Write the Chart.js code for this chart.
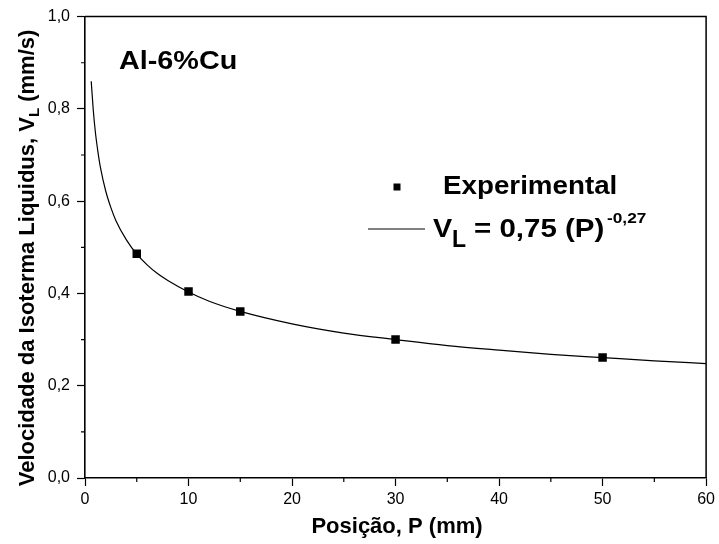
<!DOCTYPE html>
<html lang="pt">
<head>
    <meta charset="UTF-8">
    <title>Velocidade da Isoterma Liquidus - Al-6%Cu</title>
    <script src="https://cdn.jsdelivr.net/npm/chart.js"></script>
    <style>
body {
  margin: 0;
  padding: 0;
  background-color: #fff;
}

#chartContainer {
  width: 719px;
  height: 544px;
}
    </style>
</head>
<body>
    <div id="chartContainer">
        <canvas id="myChart" width="719" height="544"></canvas>
    </div>

    <script>
        // experimental points (posição mm, velocidade mm/s)
        const expPos = [5, 10, 15, 30, 50];
        const expVel = [0.486, 0.404, 0.361, 0.300, 0.261];

        // fitted curve
        const fitPos = [0.6, 0.8, 1, 1.25, 1.5, 2, 2.5, 3, 4, 5, 6, 7, 8, 10, 12, 15, 20, 25, 30, 35, 40, 45, 50, 55, 60];
        const fitVel = [0.860, 0.797, 0.750, 0.707, 0.672, 0.622, 0.586, 0.557, 0.516, 0.485, 0.462, 0.443, 0.428, 0.403, 0.383, 0.361, 0.334, 0.314, 0.300, 0.287, 0.277, 0.268, 0.261, 0.254, 0.248];

        // tick labels
        const xTicks = [0, 10, 20, 30, 40, 50, 60];
        const yTicks = [0, 0.2, 0.4, 0.6, 0.8, 1.0];
        const xMinor = [5, 15, 25, 35, 45, 55];
        const yMinor = [0.1, 0.3, 0.5, 0.7, 0.9];

        function toPoints(xs, ys) {
            return xs.map(function (x, i) { return { x: x, y: ys[i] }; });
        }

        function stretchText(ctx, txt, x, y, font, sx) {
            ctx.save();
            ctx.font = font;
            ctx.translate(x, y);
            ctx.scale(sx, 1);
            ctx.fillText(txt, 0, 0);
            ctx.restore();
        }

        const FONT = '"Liberation Sans", Arial, sans-serif';

        const decorations = {
            id: 'decorations',
            afterDraw: function (chart) {
                const ctx = chart.ctx;
                const a = chart.chartArea;
                const xs = chart.scales.x;
                const ys = chart.scales.y;

                ctx.save();
                ctx.strokeStyle = '#000';
                ctx.fillStyle = '#000';

                // top and right frame
                ctx.lineWidth = 1.5;
                ctx.beginPath();
                ctx.moveTo(a.left, a.top);
                ctx.lineTo(a.right, a.top);
                ctx.lineTo(a.right, a.bottom);
                ctx.stroke();

                // minor ticks
                ctx.lineWidth = 1.2;
                ctx.beginPath();
                xMinor.forEach(function (v) {
                    const px = xs.getPixelForValue(v);
                    ctx.moveTo(px, a.bottom);
                    ctx.lineTo(px, a.bottom + 4);
                });
                yMinor.forEach(function (v) {
                    const py = ys.getPixelForValue(v);
                    ctx.moveTo(a.left, py);
                    ctx.lineTo(a.left - 4, py);
                });
                ctx.stroke();

                ctx.textBaseline = 'alphabetic';
                ctx.textAlign = 'left';

                // alloy label
                stretchText(ctx, 'Al-6%Cu', 119, 69, 'bold 25px ' + FONT, 1.15);

                // legend
                ctx.fillRect(393.5, 183.5, 7, 7);
                stretchText(ctx, 'Experimental', 443, 194, 'bold 25px ' + FONT, 1.11);
                ctx.lineWidth = 1;
                ctx.beginPath();
                ctx.moveTo(368, 229);
                ctx.lineTo(425, 229);
                ctx.stroke();
                stretchText(ctx, 'V', 433, 237, 'bold 25px ' + FONT, 1.15);
                stretchText(ctx, 'L', 452, 247, 'bold 23px ' + FONT, 1.0);
                stretchText(ctx, '= 0,75 (P)', 474, 237, 'bold 25px ' + FONT, 1.18);
                stretchText(ctx, '-0,27', 607, 223, 'bold 15px ' + FONT, 1.15);

                // x axis title
                ctx.font = 'bold 22px ' + FONT;
                ctx.textAlign = 'center';
                ctx.fillText('Posição, P (mm)', 397, 533);

                // y axis title, rotated with subscript
                ctx.textAlign = 'left';
                const part1 = 'Velocidade da Isoterma Liquidus, V';
                const part2 = 'L';
                const part3 = ' (mm/s)';
                const mainFont = 'bold 22px ' + FONT;
                const subFont = 'bold 15px ' + FONT;
                ctx.font = mainFont;
                const w1 = ctx.measureText(part1).width;
                const w3 = ctx.measureText(part3).width;
                ctx.font = subFont;
                const w2 = ctx.measureText(part2).width;
                const total = w1 + w2 + w3;
                ctx.translate(34, 258 + total / 2);
                ctx.rotate(-Math.PI / 2);
                ctx.font = mainFont;
                ctx.fillText(part1, 0, 0);
                ctx.font = subFont;
                ctx.fillText(part2, w1, 5);
                ctx.font = mainFont;
                ctx.fillText(part3, w1 + w2, 0);

                ctx.restore();
            }
        };

        const ctx = document.getElementById('myChart').getContext('2d');
        const myChart = new Chart(ctx, {
            type: 'scatter',
            data: {
                datasets: [{
                    label: 'Experimental',
                    data: toPoints(expPos, expVel),
                    pointStyle: 'rect',
                    pointRadius: 6,
                    pointBorderWidth: 0,
                    backgroundColor: '#000',
                    borderColor: '#000',
                    showLine: false
                }, {
                    label: 'VL= 0,75 (P)^-0,27',
                    data: toPoints(fitPos, fitVel),
                    showLine: true,
                    pointRadius: 0,
                    borderWidth: 1.2,
                    borderColor: '#000',
                    backgroundColor: '#000',
                    cubicInterpolationMode: 'monotone'
                }]
            },
            options: {
                responsive: false,
                animation: false,
                devicePixelRatio: 1,
                layout: {
                    padding: { top: 14, right: 11, left: 0, bottom: 0 }
                },
                plugins: {
                    legend: { display: false },
                    tooltip: { enabled: false }
                },
                scales: {
                    x: {
                        type: 'linear',
                        min: 0,
                        max: 60,
                        afterFit: function (s) { s.height = 66; },
                        afterBuildTicks: function (s) {
                            s.ticks = xTicks.map(function (v) { return { value: v }; });
                        },
                        ticks: {
                            color: '#000',
                            padding: 4,
                            maxRotation: 0,
                            font: { family: FONT, size: 16 },
                            callback: function (value) { return String(value); }
                        },
                        grid: {
                            drawOnChartArea: false,
                            tickLength: 8,
                            tickColor: '#000',
                            tickWidth: 1.2
                        },
                        border: { color: '#000', width: 1.6 }
                    },
                    y: {
                        type: 'linear',
                        min: 0,
                        max: 1.0,
                        afterFit: function (s) { s.width = 85; },
                        afterBuildTicks: function (s) {
                            s.ticks = yTicks.map(function (v) { return { value: v }; });
                        },
                        ticks: {
                            color: '#000',
                            padding: 7,
                            font: { family: FONT, size: 16 },
                            callback: function (value) {
                                return value.toFixed(1).replace('.', ',');
                            }
                        },
                        grid: {
                            drawOnChartArea: false,
                            tickLength: 8,
                            tickColor: '#000',
                            tickWidth: 1.2
                        },
                        border: { color: '#000', width: 1.6 }
                    }
                }
            },
            plugins: [decorations]
        });
    </script>
</body>
</html>
